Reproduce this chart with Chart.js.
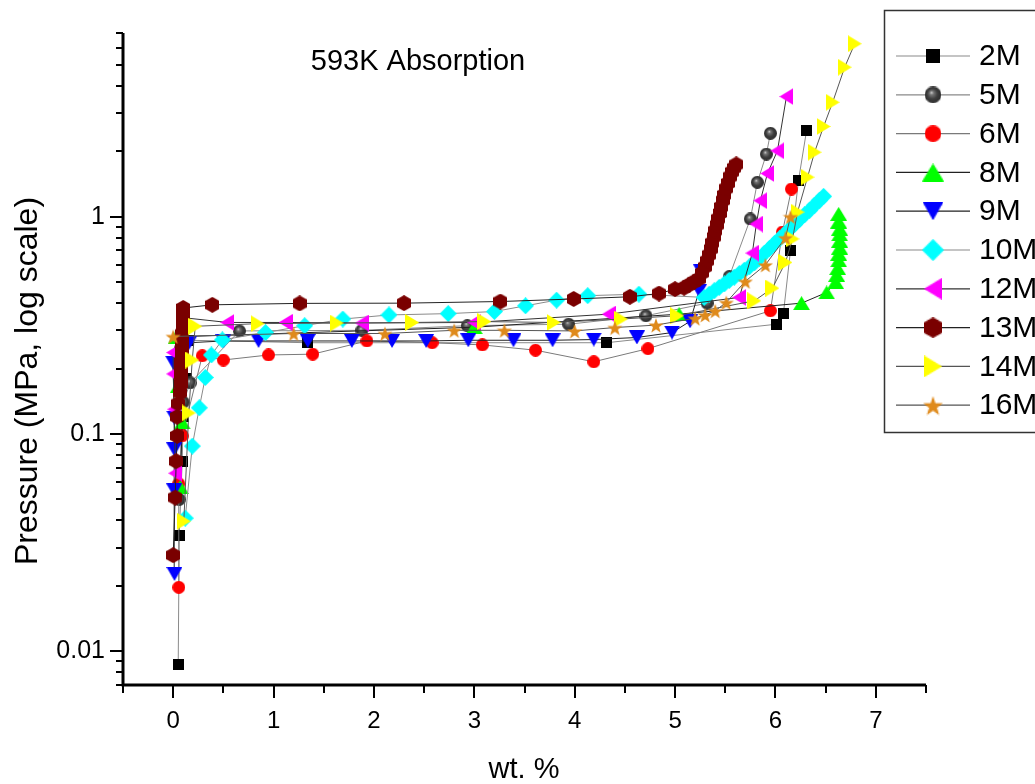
<!DOCTYPE html>
<html>
<head>
<meta charset="utf-8">
<script src="https://cdn.jsdelivr.net/npm/chart.js@4.4.1/dist/chart.umd.min.js"></script>
<style>
  html, body { margin: 0; padding: 0; background: #fff; }
  #wrap { width: 1035px; height: 784px; position: relative; }
</style>
</head>
<body>
<div id="wrap"><canvas id="myChart"></canvas></div>
<script>
// values: wt.% and pressure (MPa)
const wt2M = [0.05, 0.06, 0.09, 0.10, 0.13, 0.15, 1.34, 4.32, 6.01, 6.08, 6.15, 6.23, 6.31];
const p2M  = [0.0087, 0.034, 0.075, 0.12, 0.18, 0.27, 0.263, 0.263, 0.32, 0.36, 0.70, 1.47, 2.49];

const wt5M = [0.06, 0.08, 0.10, 0.17, 0.66, 1.88, 2.93, 3.94, 4.71, 5.32, 5.54, 5.75, 5.82, 5.91, 5.95];
const p5M  = [0.05, 0.10, 0.14, 0.172, 0.298, 0.30, 0.315, 0.32, 0.35, 0.40, 0.53, 0.976, 1.44, 1.94, 2.42];

const wt6M = [0.056, 0.056, 0.09, 0.29, 0.50, 0.95, 1.39, 1.93, 2.58, 3.08, 3.61, 4.19, 4.73, 5.95, 6.07, 6.16];
const p6M  = [0.0197, 0.059, 0.098, 0.229, 0.219, 0.231, 0.233, 0.268, 0.263, 0.257, 0.243, 0.215, 0.247, 0.369, 0.85, 1.34];

const wt8M = [0.07, 0.09, 0.05, 0.03, 3.00, 5.04, 6.26, 6.51, 6.60, 6.61, 6.62, 6.63, 6.63, 6.64, 6.64, 6.64, 6.64, 6.63, 6.63];
const p8M  = [0.057, 0.113, 0.166, 0.28, 0.31, 0.356, 0.40, 0.448, 0.50, 0.54, 0.58, 0.63, 0.675, 0.72, 0.775, 0.83, 0.88, 0.95, 1.03];

const wt9M = [0.013, 0.01, 0.01, 0.01, 0.0, 0.16, 0.50, 0.85, 1.34, 1.78, 2.18, 2.52, 2.94, 3.39, 3.78, 4.19, 4.62, 4.97, 5.15, 5.24, 5.26];
const p9M  = [0.0227, 0.055, 0.085, 0.119, 0.213, 0.263, 0.268, 0.268, 0.268, 0.268, 0.268, 0.268, 0.27, 0.27, 0.27, 0.272, 0.278, 0.293, 0.33, 0.456, 0.56];

const wt10M = [0.12, 0.19, 0.26, 0.32, 0.38, 0.49, 0.92, 1.31, 1.69, 2.15, 2.74, 3.20, 3.51, 3.82, 4.13, 4.64,
               5.29, 5.34, 5.39, 5.44, 5.49, 5.54, 5.59, 5.64, 5.69, 5.74, 5.79, 5.84, 5.89, 5.94, 5.99, 6.04,
               6.09, 6.14, 6.19, 6.24, 6.29, 6.34, 6.39, 6.44, 6.48];
const p10M  = [0.041, 0.088, 0.132, 0.182, 0.231, 0.271, 0.293, 0.315, 0.338, 0.353, 0.358, 0.366, 0.389, 0.413, 0.433, 0.44,
               0.425, 0.44, 0.456, 0.473, 0.49, 0.509, 0.527, 0.547, 0.567, 0.588, 0.613, 0.645, 0.679, 0.714, 0.752, 0.791,
               0.832, 0.876, 0.92, 0.97, 1.02, 1.07, 1.13, 1.19, 1.24];

const wt12M = [0.02, 0.01, 0.0, 0.0, 0.10, 0.54, 1.12, 1.88, 3.00, 4.34, 5.64, 5.77, 5.81, 5.85, 5.92, 6.02, 6.11];
const p12M  = [0.066, 0.13, 0.189, 0.237, 0.343, 0.326, 0.326, 0.324, 0.326, 0.356, 0.425, 0.68, 0.925, 1.185, 1.58, 2.01, 3.57];

const wt13M = [0.0, 0.02, 0.03, 0.04, 0.04, 0.05, 0.07, 0.08, 0.08, 0.08, 0.08, 0.09, 0.09, 0.09, 0.09, 0.09, 0.10, 0.10, 0.10, 0.10, 0.10, 0.10,
               0.39, 1.26, 2.30, 3.26, 3.99, 4.55, 4.84, 5.00,
               5.09, 5.14, 5.19, 5.24, 5.27, 5.30, 5.32, 5.34, 5.36, 5.37, 5.39, 5.40, 5.42, 5.43, 5.45, 5.46, 5.48, 5.49,
               5.51, 5.53, 5.55, 5.57, 5.59, 5.61];
const p13M  = [0.0277, 0.051, 0.075, 0.098, 0.12, 0.138, 0.155, 0.17, 0.185, 0.20, 0.215, 0.23, 0.245, 0.26, 0.275, 0.29, 0.305, 0.32, 0.335, 0.35, 0.365, 0.38,
               0.393, 0.399, 0.40, 0.407, 0.418, 0.428, 0.443, 0.464,
               0.471, 0.486, 0.502, 0.518, 0.552, 0.588, 0.627, 0.668, 0.712, 0.759, 0.809, 0.862, 0.919, 0.979, 1.04, 1.11, 1.19, 1.26,
               1.35, 1.43, 1.53, 1.61, 1.68, 1.74];

const wt14M = [0.106, 0.155, 0.19, 0.22, 0.84, 1.63, 2.38, 3.10, 3.79, 4.46, 5.02, 5.79, 5.97, 6.10, 6.17, 6.22, 6.32, 6.39, 6.48, 6.57, 6.69, 6.79];
const p14M  = [0.0397, 0.125, 0.219, 0.313, 0.322, 0.324, 0.326, 0.329, 0.326, 0.338, 0.35, 0.41, 0.469, 0.616, 0.79, 1.05, 1.52, 1.98, 2.6, 3.36, 4.87, 6.25];

const wt16M = [0.0, 1.20, 2.11, 2.80, 3.30, 4.00, 4.40, 4.81, 5.20, 5.30, 5.40, 5.51, 5.70, 5.90, 6.10, 6.15];
const p16M  = [0.281, 0.29, 0.29, 0.30, 0.30, 0.298, 0.309, 0.317, 0.341, 0.353, 0.369, 0.403, 0.504, 0.60, 0.80, 1.0];

// tick values and labels
const xTickValues = [-0.5, 0, 0.5, 1, 1.5, 2, 2.5, 3, 3.5, 4, 4.5, 5, 5.5, 6, 6.5, 7, 7.5];
const xLabelValues = [0, 1, 2, 3, 4, 5, 6, 7];
const yTickValues = [0.007, 0.008, 0.009, 0.01, 0.02, 0.03, 0.04, 0.05, 0.06, 0.07, 0.08, 0.09,
                     0.1, 0.2, 0.3, 0.4, 0.5, 0.6, 0.7, 0.8, 0.9, 1, 2, 3, 4, 5, 6, 7];
const yLabelValues = [0.01, 0.1, 1];
const yLabelTexts = ['0.01', '0.1', '1'];

const FONT = 'Arial, "Liberation Sans", sans-serif';

// marker looks per series
const series = [
    { name: '2M',  wt: wt2M,  p: p2M,  shape: 'square',  fill: '#000000', w: 11, h: 11, line: '#8a8a8a' },
    { name: '5M',  wt: wt5M,  p: p5M,  shape: 'sphere',  fill: '#3c3c3c', w: 13, h: 13, line: '#8a8a8a' },
    { name: '6M',  wt: wt6M,  p: p6M,  shape: 'circle',  fill: '#ff0000', w: 13, h: 13, line: '#7a7a7a' },
    { name: '8M',  wt: wt8M,  p: p8M,  shape: 'up',      fill: '#00ff00', w: 17, h: 14, line: '#222222' },
    { name: '9M',  wt: wt9M,  p: p9M,  shape: 'down',    fill: '#0000ff', w: 16, h: 14, line: '#222222' },
    { name: '10M', wt: wt10M, p: p10M, shape: 'diamond', fill: '#00ffff', w: 17, h: 17, line: '#8a8a8a' },
    { name: '12M', wt: wt12M, p: p12M, shape: 'left',    fill: '#ff00ff', w: 14, h: 17, line: '#333333' },
    { name: '13M', wt: wt13M, p: p13M, shape: 'hexagon', fill: '#7a0000', w: 14, h: 16, line: '#222222' },
    { name: '14M', wt: wt14M, p: p14M, shape: 'right',   fill: '#ffff00', w: 14, h: 17, line: '#555555' },
    { name: '16M', wt: wt16M, p: p16M, shape: 'star',    fill: '#df8a1b', w: 16, h: 16, line: '#555555' }
];

function makeMarker(s) {
    const c = document.createElement('canvas');
    c.width = s.w; c.height = s.h;
    const g = c.getContext('2d');
    const w = s.w, h = s.h;
    g.fillStyle = s.fill;
    g.beginPath();
    switch (s.shape) {
        case 'square': g.rect(0, 0, w, h); break;
        case 'circle': g.arc(w / 2, h / 2, w / 2, 0, Math.PI * 2); break;
        case 'sphere': {
            const gr = g.createRadialGradient(w * 0.4, h * 0.36, 0, w / 2, h / 2, w / 2);
            gr.addColorStop(0, '#e0e0e0');
            gr.addColorStop(0.22, '#777777');
            gr.addColorStop(0.6, '#3e3e3e');
            gr.addColorStop(1, '#2a2a2a');
            g.fillStyle = gr;
            g.arc(w / 2, h / 2, w / 2, 0, Math.PI * 2);
            break;
        }
        case 'up': g.moveTo(w / 2, 0); g.lineTo(w, h); g.lineTo(0, h); break;
        case 'down': g.moveTo(0, 0); g.lineTo(w, 0); g.lineTo(w / 2, h); break;
        case 'left': g.moveTo(0, h / 2); g.lineTo(w, 0); g.lineTo(w, h); break;
        case 'right': g.moveTo(0, 0); g.lineTo(w, h / 2); g.lineTo(0, h); break;
        case 'diamond': g.moveTo(w / 2, 0); g.lineTo(w, h / 2); g.lineTo(w / 2, h); g.lineTo(0, h / 2); break;
        case 'hexagon':
            for (let i = 0; i < 6; i++) {
                const a = -Math.PI / 2 + i * Math.PI / 3;
                const px = w / 2 + (w / 2) * Math.cos(a) / Math.cos(Math.PI / 6);
                const py = h / 2 + (h / 2) * Math.sin(a);
                if (i === 0) g.moveTo(px, py); else g.lineTo(Math.min(w, Math.max(0, px)), py);
            }
            break;
        case 'star':
            for (let i = 0; i < 10; i++) {
                const a = -Math.PI / 2 + i * Math.PI / 5;
                const r = i % 2 === 0 ? w / 2 : w * 0.2;
                const px = w / 2 + r * Math.cos(a);
                const py = h / 2 + 1 + r * Math.sin(a);
                if (i === 0) g.moveTo(px, py); else g.lineTo(px, py);
            }
            break;
    }
    g.closePath();
    g.fill();
    return c;
}

const markers = series.map(makeMarker);

const datasets = series.map((s, i) => ({
    label: s.name,
    data: s.wt.map((x, j) => ({ x: x, y: s.p[j] })),
    showLine: true,
    borderColor: s.line,
    borderWidth: 1,
    tension: 0,
    pointStyle: markers[i],
    pointRadius: 8,
    pointHoverRadius: 8,
    order: series.length - i // later series on top
}));

const decor = {
    id: 'decor',
    afterDraw(chart) {
        const { ctx, chartArea: a } = chart;
        const xs = chart.scales.x, ys = chart.scales.y;
        ctx.save();
        ctx.strokeStyle = '#000';
        ctx.lineWidth = 3;
        ctx.beginPath();
        ctx.moveTo(a.left, a.top);
        ctx.lineTo(a.left, a.bottom);
        ctx.lineTo(a.right, a.bottom);
        ctx.stroke();

        ctx.lineWidth = 2;
        ctx.beginPath();
        xTickValues.forEach(v => {
            const px = Math.round(xs.getPixelForValue(v));
            const len = Number.isInteger(v) ? 13 : 8;
            ctx.moveTo(px, a.bottom);
            ctx.lineTo(px, a.bottom + len);
        });
        yTickValues.forEach(v => {
            const py = Math.round(ys.getPixelForValue(v));
            const major = yLabelValues.some(m => Math.abs(m - v) < 1e-9);
            ctx.moveTo(a.left - (major ? 13 : 7), py);
            ctx.lineTo(a.left, py);
        });
        ctx.stroke();

        // texts
        ctx.fillStyle = '#000';
        ctx.textBaseline = 'middle';
        ctx.textAlign = 'center';
        ctx.font = '29px ' + FONT;
        ctx.fillText('593K Absorption', 418, 62);
        ctx.font = '29px ' + FONT;
        ctx.fillText('wt. %', 524, 770);
        ctx.save();
        ctx.translate(28, 381);
        ctx.rotate(-Math.PI / 2);
        ctx.font = '32px ' + FONT;
        ctx.fillText('Pressure (MPa, log scale)', 0, 0);
        ctx.restore();

        // legend box
        ctx.fillStyle = '#fff';
        ctx.fillRect(884, 10, 160, 422);
        ctx.strokeStyle = '#333';
        ctx.lineWidth = 1.5;
        ctx.strokeRect(884.5, 10.5, 170, 422);
        series.forEach((s, i) => {
            const ry = 56 + i * 38.8;
            ctx.strokeStyle = s.line;
            ctx.lineWidth = 1.2;
            ctx.beginPath();
            ctx.moveTo(896, ry);
            ctx.lineTo(970, ry);
            ctx.stroke();
            const m = markers[i];
            const sw = m.width * 1.3, sh = m.height * 1.3;
            ctx.drawImage(m, 933 - sw / 2, ry - sh / 2, sw, sh);
            ctx.fillStyle = '#000';
            ctx.textAlign = 'left';
            ctx.font = '30px ' + FONT;
            ctx.fillText(s.name, 979, ry + 1);
        });
        ctx.restore();
    }
};

const config = {
    type: 'scatter',
    data: { datasets: datasets },
    options: {
        responsive: true,
        maintainAspectRatio: false,
        animation: false,
        events: [],
        layout: { padding: { left: 0, top: 32, right: 109, bottom: 0 } },
        scales: {
            x: {
                type: 'linear',
                min: -0.5,
                max: 7.5,
                grid: { display: false, drawTicks: false },
                border: { display: false },
                afterBuildTicks: scale => { scale.ticks = xTickValues.map(v => ({ value: v })); },
                afterFit: scale => { scale.height = 99; },
                ticks: {
                    autoSkip: false,
                    maxRotation: 0,
                    padding: 22,
                    color: '#000',
                    font: { family: FONT, size: 24 },
                    callback: v => xLabelValues.includes(v) ? String(v) : ''
                }
            },
            y: {
                type: 'logarithmic',
                min: 0.007,
                max: 7,
                grid: { display: false, drawTicks: false },
                border: { display: false },
                afterBuildTicks: scale => { scale.ticks = yTickValues.map(v => ({ value: v })); },
                afterFit: scale => { scale.width = 123; },
                ticks: {
                    autoSkip: false,
                    padding: 18,
                    color: '#000',
                    font: { family: FONT, size: 25 },
                    callback: v => {
                        const i = yLabelValues.findIndex(m => Math.abs(m - v) < 1e-9);
                        return i >= 0 ? yLabelTexts[i] : '';
                    }
                }
            }
        },
        plugins: {
            legend: { display: false },
            tooltip: { enabled: false }
        }
    },
    plugins: [decor]
};

const myChart = new Chart(document.getElementById('myChart'), config);
</script>
</body>
</html>
